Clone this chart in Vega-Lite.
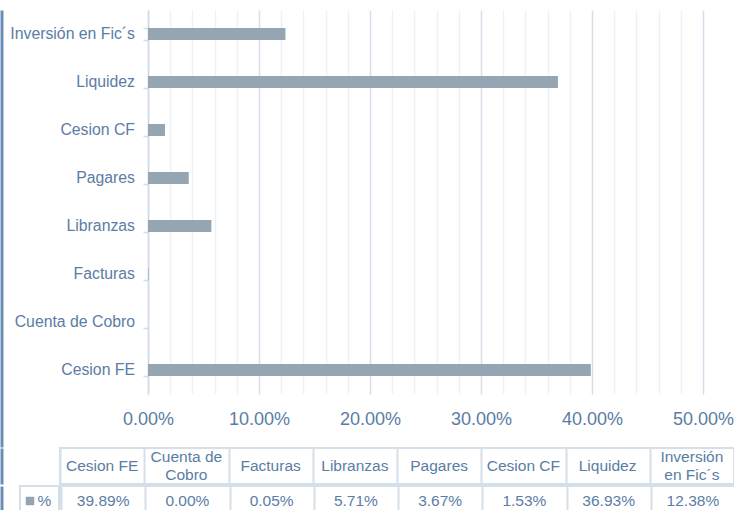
{
  "$schema": "https://vega.github.io/schema/vega-lite/v6.json",
  "padding": {"left": 0, "top": 10, "right": 0, "bottom": 0},
  "autosize": {"type": "pad"},
  "background": "white",
  "config": {"font": "Liberation Sans"},
  "datasets": {
    "alloc": [
      {"cat": "Cesion FE", "label": "Cesion FE", "pct": 0.3989},
      {"cat": "Cuenta de Cobro", "label": "Cuenta de\nCobro", "pct": 0.0},
      {"cat": "Facturas", "label": "Facturas", "pct": 0.0005},
      {"cat": "Libranzas", "label": "Libranzas", "pct": 0.0571},
      {"cat": "Pagares", "label": "Pagares", "pct": 0.0367},
      {"cat": "Cesion CF", "label": "Cesion CF", "pct": 0.0153},
      {"cat": "Liquidez", "label": "Liquidez", "pct": 0.3693},
      {"cat": "Inversión en Fic´s", "label": "Inversión\nen Fic´s", "pct": 0.1238}
    ],
    "series": [{"series": "%"}]
  },
  "spacing": 0,
  "vconcat": [
    {
      "spacing": 13,
      "bounds": "flush",
      "hconcat": [
        {
          "width": 1,
          "height": 437,
          "view": {"stroke": null},
          "data": {"name": "series"},
          "mark": {"type": "text"},
          "encoding": {
            "y": {
              "datum": "chart", "type": "nominal",
              "axis": {"orient": "left", "offset": 18.5, "title": null, "labels": false, "ticks": false, "grid": false, "domainColor": "#6a8db5", "domainWidth": 3}
            },
            "text": {"value": ""}
          }
        },
        {
          "width": 101,
          "height": 384,
          "view": {"stroke": null},
          "data": {"name": "alloc"},
          "mark": {"type": "text", "align": "right", "baseline": "middle", "fontSize": 15.8, "color": "#5a7da5"},
          "encoding": {
            "x": {"value": "width"},
            "y": {
              "field": "cat", "type": "nominal",
              "sort": ["Inversión en Fic´s", "Liquidez", "Cesion CF", "Pagares", "Libranzas", "Facturas", "Cuenta de Cobro", "Cesion FE"],
              "scale": {"paddingInner": 0.75, "paddingOuter": 0.375},
              "axis": null
            },
            "text": {"field": "cat"}
          }
        },
        {
          "width": 555,
          "height": 384,
          "view": {"stroke": null},
          "data": {"name": "alloc"},
          "mark": {"type": "bar", "color": "#95a5b1"},
          "encoding": {
            "x": {
              "field": "pct", "type": "quantitative",
              "scale": {"domain": [0, 0.5], "nice": false},
              "axis": {
                "title": null,
                "values": [0, 0.02, 0.04, 0.06, 0.08, 0.1, 0.12, 0.14, 0.16, 0.18, 0.2, 0.22, 0.24, 0.26, 0.28, 0.3, 0.32, 0.34, 0.36, 0.38, 0.4, 0.42, 0.44, 0.46, 0.48, 0.5],
                "labelExpr": "round(datum.value*100) % 10 == 0 ? format(datum.value, '.2%') : ''",
                "grid": true,
                "gridColor": {"condition": {"test": "round(datum.value*100) % 10 == 0", "value": "#d6dfe9"}, "value": "#edf1f6"},
                "gridWidth": 1.5,
                "domain": false,
                "ticks": false,
                "labelFontSize": 18,
                "labelColor": "#5a7da5",
                "labelPadding": 16,
                "labelFlush": false,
                "labelOverlap": false
              }
            },
            "y": {
              "field": "cat", "type": "nominal",
              "sort": ["Inversión en Fic´s", "Liquidez", "Cesion CF", "Pagares", "Libranzas", "Facturas", "Cuenta de Cobro", "Cesion FE"],
              "scale": {"paddingInner": 0.75, "paddingOuter": 0.375},
              "axis": {
                "title": null,
                "labels": false,
                "tickBand": "extent",
                "tickSize": 5,
                "tickColor": "#d3dce6",
                "tickWidth": 1.5,
                "domainColor": "#d3dce6",
                "domainWidth": 1.5,
                "grid": false
              }
            }
          }
        }
      ]
    },
    {
      "spacing": 0,
      "vconcat": [
        {
          "spacing": 0,
          "hconcat": [
            {
              "width": 39,
              "height": 36,
              "view": {"stroke": null},
              "data": {"name": "series"},
              "mark": {"type": "text"},
              "encoding": {
                "y": {
                  "datum": "header", "type": "nominal",
                  "axis": {"orient": "left", "offset": 18.5, "title": null, "labels": false, "ticks": false, "grid": false, "domainColor": "#6a8db5", "domainWidth": 3}
                },
                "text": {"value": ""}
              }
            },
            {
              "width": 674,
              "height": 36,
              "view": {"stroke": "#d5dfe9", "strokeWidth": 2},
              "data": {"name": "alloc"},
              "encoding": {
                "x": {
                  "field": "cat", "type": "nominal",
                  "sort": ["Cesion FE", "Cuenta de Cobro", "Facturas", "Libranzas", "Pagares", "Cesion CF", "Liquidez", "Inversión en Fic´s"],
                  "scale": {"paddingInner": 0, "paddingOuter": 0},
                  "axis": {"title": null, "labels": false, "ticks": false, "domain": false, "grid": true, "tickBand": "extent", "gridColor": "#d5dfe9", "gridWidth": 2}
                },
                "text": {"field": "label"}
              },
              "layer": [
                {
                  "transform": [{"filter": "indexof(datum.label, '\\n') < 0"}],
                  "mark": {"type": "text", "fontSize": 15.5, "color": "#5a7da5", "baseline": "middle"}
                },
                {
                  "transform": [{"filter": "indexof(datum.label, '\\n') >= 0"}],
                  "mark": {"type": "text", "fontSize": 15.5, "color": "#5a7da5", "baseline": "middle", "lineBreak": "\n", "lineHeight": 17.5, "dy": -8.75}
                }
              ]
            }
          ]
        },
        {
          "spacing": 0,
          "hconcat": [
            {
              "width": 39,
              "height": 30,
              "view": {"stroke": "#d5dfe9", "strokeWidth": 2},
              "data": {"name": "series"},
              "encoding": {
                "y": {
                  "datum": "value", "type": "nominal",
                  "axis": {"orient": "left", "offset": 18.5, "title": null, "labels": false, "ticks": false, "grid": false, "domainColor": "#6a8db5", "domainWidth": 3}
                }
              },
              "layer": [
                {"mark": {"type": "point", "shape": "square", "filled": true, "size": 72, "opacity": 1, "color": "#95a5b1", "xOffset": -9.5}},
                {"mark": {"type": "text", "fontSize": 15.5, "color": "#5a7da5", "dx": 5, "baseline": "middle"}, "encoding": {"text": {"field": "series"}}}
              ]
            },
            {
              "width": 674,
              "height": 30,
              "view": {"stroke": "#d5dfe9", "strokeWidth": 2},
              "data": {"name": "alloc"},
              "mark": {"type": "text", "fontSize": 15.5, "color": "#5a7da5", "baseline": "middle"},
              "encoding": {
                "x": {
                  "field": "cat", "type": "nominal",
                  "sort": ["Cesion FE", "Cuenta de Cobro", "Facturas", "Libranzas", "Pagares", "Cesion CF", "Liquidez", "Inversión en Fic´s"],
                  "scale": {"paddingInner": 0, "paddingOuter": 0},
                  "axis": {"title": null, "labels": false, "ticks": false, "domain": false, "grid": true, "tickBand": "extent", "gridColor": "#d5dfe9", "gridWidth": 2}
                },
                "text": {"field": "pct", "type": "quantitative", "format": ".2%"}
              }
            }
          ]
        }
      ]
    }
  ]
}
